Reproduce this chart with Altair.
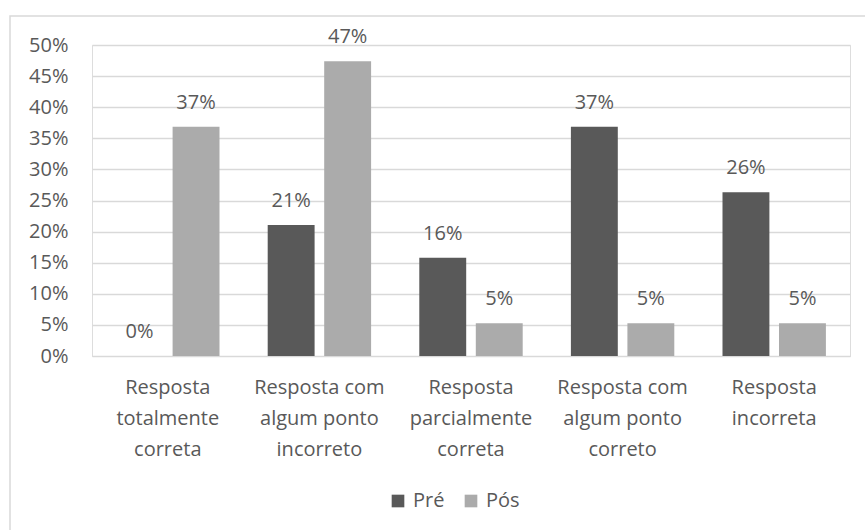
import altair as alt
import pandas as pd

categories = [
    "Resposta|totalmente|correta",
    "Resposta com|algum ponto|incorreto",
    "Resposta|parcialmente|correta",
    "Resposta com|algum ponto|correto",
    "Resposta|incorreta",
]
series = ["Pré", "Pós"]
pre_values = [0.0, 0.2105, 0.1579, 0.3684, 0.2632]
pos_values = [0.3684, 0.4737, 0.0526, 0.0526, 0.0526]

rows = []
for c, a, b in zip(categories, pre_values, pos_values):
    rows.append({"cat": c, "serie": "Pré", "value": a})
    rows.append({"cat": c, "serie": "Pós", "value": b})
df = pd.DataFrame(rows)

FONT = "Open Sans"
TXT = "#595959"
W, H = 758, 311

color = alt.Color(
    "serie:N",
    scale=alt.Scale(domain=series, range=["#595959", "#ABABAB"]),
    legend=alt.Legend(
        title=None, orient="none", direction="horizontal",
        legendX=296, legendY=446, symbolType="square", symbolSize=160,
        symbolStrokeWidth=0, labelFontSize=20, labelFont=FONT, labelColor=TXT,
        columnPadding=16, labelOffset=5,
    ),
)

x = alt.X(
    "cat:N", sort=categories, title=None,
    scale=alt.Scale(paddingInner=0, paddingOuter=0),
    axis=alt.Axis(
        labelExpr="split(datum.label, '|')", labelAngle=0, labelFontSize=20,
        labelFont=FONT, labelColor=TXT, labelPadding=21, labelLineHeight=31,
        ticks=False, domainColor="#D9D9D9", domainWidth=1, labelBaseline="top",
    ),
)
xoff = alt.XOffset("serie:N", sort=series,
                   scale=alt.Scale(domain=series, paddingInner=0.17, paddingOuter=0.4265))
y = alt.Y(
    "value:Q", title=None,
    scale=alt.Scale(domain=[0, 0.5], nice=False),
    axis=alt.Axis(
        format=".0%", values=[i * 0.05 for i in range(11)], labelFontSize=20,
        labelFont=FONT, labelColor=TXT, labelPadding=24, ticks=False, domain=False,
        gridColor="#D9D9D9", gridWidth=1.3,
    ),
)

frame = alt.Chart(pd.DataFrame({"k": [0]})).mark_rect(
    fill=None, stroke="#D9D9D9", strokeWidth=1.5
).encode(x=alt.value(-82), x2=alt.value(800), y=alt.value(-29), y2=alt.value(520))

base = alt.Chart(df)
bars = base.mark_bar().encode(x=x, xOffset=xoff, y=y, color=color)
labels = base.mark_text(
    baseline="alphabetic", dy=-18, fontSize=20, font=FONT, color=TXT
).encode(x=x, xOffset=xoff, y=y, text=alt.Text("value:Q", format=".0%"))

chart = alt.layer(frame, bars, labels).properties(
    width=W, height=H,
    autosize=alt.AutoSizeParams(type="none"),
    padding={"left": 92, "top": 45, "right": 15, "bottom": 174},
).configure_view(stroke=None).configure(background="white")

chart.save("out.html", embed_options={"renderer": "svg", "actions": False})
